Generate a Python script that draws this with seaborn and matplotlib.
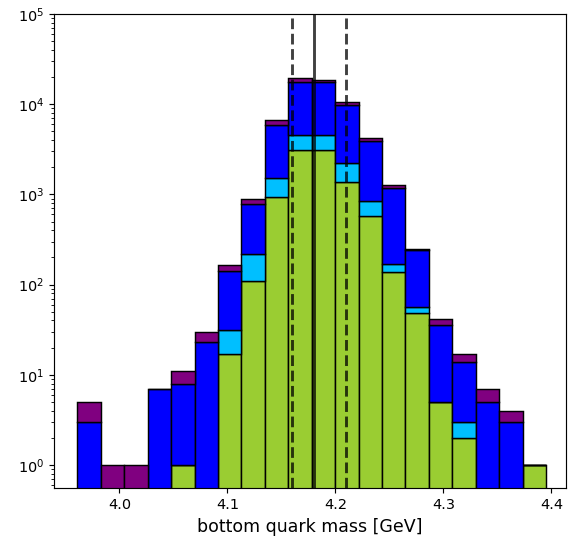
import numpy as np
import pandas as pd
import matplotlib
matplotlib.use("Agg")
import matplotlib.pyplot as plt
import seaborn as sns

# histogram binning (20 bins)
mass_min = 3.9611
mass_max = 4.3951
n_bins = 20

# counts per bin for each stacked component (bottom -> top)
green_counts = [0, 0, 0, 0, 1, 0, 17, 110, 944, 3100, 3100, 1383, 577, 137, 49, 5, 2, 0, 0, 1]
sky_counts = [0, 0, 0, 0, 0, 0, 14, 108, 566, 1460, 1460, 862, 268, 32, 8, 0, 1, 0, 0, 0]
blue_counts = [3, 0, 0, 7, 7, 23, 112, 565, 4370, 12940, 13240, 7555, 3095, 1018, 186, 31, 11, 5, 3, 0]
purple_counts = [2, 1, 1, 0, 3, 7, 22, 100, 800, 2200, 900, 700, 315, 83, 7, 6, 3, 2, 1, 0]

# reference mass with its uncertainty band
mb_central = 4.18
mb_low = 4.16
mb_high = 4.21

edges = np.linspace(mass_min, mass_max, n_bins + 1)
centers = 0.5 * (edges[:-1] + edges[1:])

components = {
    "d": purple_counts,
    "c": blue_counts,
    "b": sky_counts,
    "a": green_counts,
}
colors = {"d": "purple", "c": "blue", "b": "deepskyblue", "a": "yellowgreen"}

rows = []
for name, counts in components.items():
    for x, w in zip(centers, counts):
        rows.append({"mass": x, "count": w, "part": name})
df = pd.DataFrame(rows)

dpi = 104
fig = plt.figure(figsize=(568 / dpi, 549 / dpi), dpi=dpi)
ax = fig.add_axes([54 / 568, 1 - 488 / 549, 512 / 568, 474 / 549])

sns.histplot(data=df, x="mass", weights="count", hue="part",
             hue_order=["d", "c", "b", "a"], palette=colors,
             multiple="stack", bins=n_bins, binrange=(mass_min, mass_max),
             alpha=1, edgecolor="black", linewidth=1, legend=False, ax=ax)

ax.set_yscale("log")
ax.set_ylim(0.556, 1e5)
ax.set_xlim(3.9395, 4.4136)

ax.axvline(mb_central, color="k", alpha=0.75, lw=2)
ax.axvline(mb_low, color="k", alpha=0.75, lw=2, ls="--")
ax.axvline(mb_high, color="k", alpha=0.75, lw=2, ls="--")

ax.set_xticks([4.0, 4.1, 4.2, 4.3, 4.4])
ax.tick_params(labelsize=10)
ax.set_xlabel("bottom quark mass [GeV]", fontsize=12)
ax.set_ylabel("")

plt.savefig("out.png", dpi=dpi)
